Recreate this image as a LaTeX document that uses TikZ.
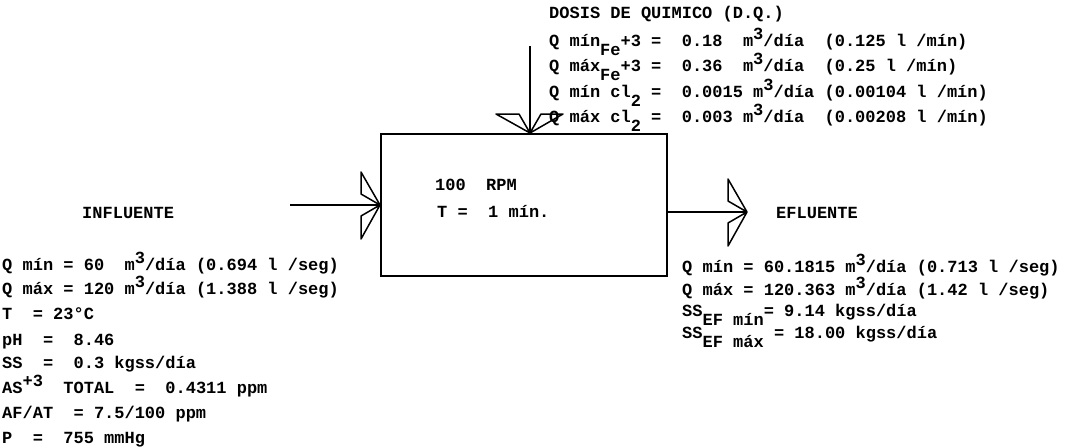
\documentclass[tikz,border=0pt]{standalone}
\usepackage{fontspec}
\newfontfamily\twfont{Liberation Mono}
\usetikzlibrary{calc}
\newcommand\supr[1]{\raisebox{7pt}{#1}}
\newcommand\subl[1]{\raisebox{-9pt}{#1}}
\tikzset{
  txt/.style={anchor=base west, inner sep=0pt, font=\twfont\bfseries\fontsize{17}{20}\selectfont},
  tank/.style={draw, line width=2pt, minimum width=286pt, minimum height=142pt, inner sep=0pt},
  flow/.style={line width=1.8pt},
  wings/.pic={\draw[line width=1.5pt, line join=round] (0,0) -- (-19,33) -- (-19,11) -- cycle (0,0) -- (-19,-11) -- (-19,-34) -- cycle;}
}
\begin{document}
\begin{tikzpicture}[x=1pt,y=1pt]
\useasboundingbox (0,0) rectangle (1066,-447);
% tank
\node[tank] (box) at (524,-205) {};
\node[txt] (rpm) at (435,-190) {100~~RPM};
\node[txt] (tiempo) at (437,-217) {T~=~~1 mín.};
% connectors
\coordinate (inS) at (290,-205);
\coordinate (dqS) at (530,-46);
\coordinate (outE) at (747,-212);
\coordinate (dqT) at (dqS |- box.north);
\coordinate (outS) at (box.east |- outE);
\draw[flow] (inS) -- (box.west);
\draw[flow] (dqS) -- (dqT);
\draw[flow] (outS) -- (outE);
\pic at (box.west) {wings};
\pic[rotate=-90] at (dqT) {wings};
\pic at (outE) {wings};
% chemical dose
\node[txt] (dq0) at (549,-19) {DOSIS DE QUIMICO (D.Q.)};
\node[txt] (dq1) at (549,-46) {Q mín\subl{Fe}+3 =~~0.18~~m\supr{3}/día~~(0.125 l /mín)};
\node[txt] (dq2) at (549,-71) {Q máx\subl{Fe}+3 =~~0.36~~m\supr{3}/día~~(0.25 l /mín)};
\node[txt] (dq3) at (549,-97) {Q mín cl\subl{2} =~~0.0015 m\supr{3}/día (0.00104 l /mín)};
\node[txt] (dq4) at (549,-122) {Q máx cl\subl{2} =~~0.003 m\supr{3}/día~~(0.00208 l /mín)};
% influent
\node[txt] (inT) at (82,-218) {INFLUENTE};
\node[txt] (in1) at (2,-270) {Q mín = 60~~m\supr{3}/día (0.694 l /seg)};
\node[txt] (in2) at (2,-294) {Q máx = 120 m\supr{3}/día (1.388 l /seg)};
\node[txt] (in3) at (2,-319) {T~~= 23°C};
\node[txt] (in4) at (2,-345) {pH~~=~~8.46};
\node[txt] (in5) at (2,-368) {SS~~=~~0.3 kgss/día};
\node[txt] (in6) at (2,-393) {AS\supr{+3}~~TOTAL~~=~~0.4311 ppm};
\node[txt] (in7) at (2,-418) {AF/AT~~= 7.5/100 ppm};
\node[txt] (in8) at (2,-443) {P~~=~~755 mmHg};
% effluent
\node[txt] (efT) at (776,-218) {EFLUENTE};
\node[txt] (ef1) at (682,-272) {Q mín = 60.1815 m\supr{3}/día (0.713 l /seg)};
\node[txt] (ef2) at (682,-295) {Q máx = 120.363 m\supr{3}/día (1.42 l /seg)};
\node[txt] (ef3) at (682,-316) {SS\subl{EF mín}= 9.14 kgss/día};
\node[txt] (ef4) at (682,-338) {SS\subl{EF máx} = 18.00 kgss/día};
\end{tikzpicture}
\end{document}
